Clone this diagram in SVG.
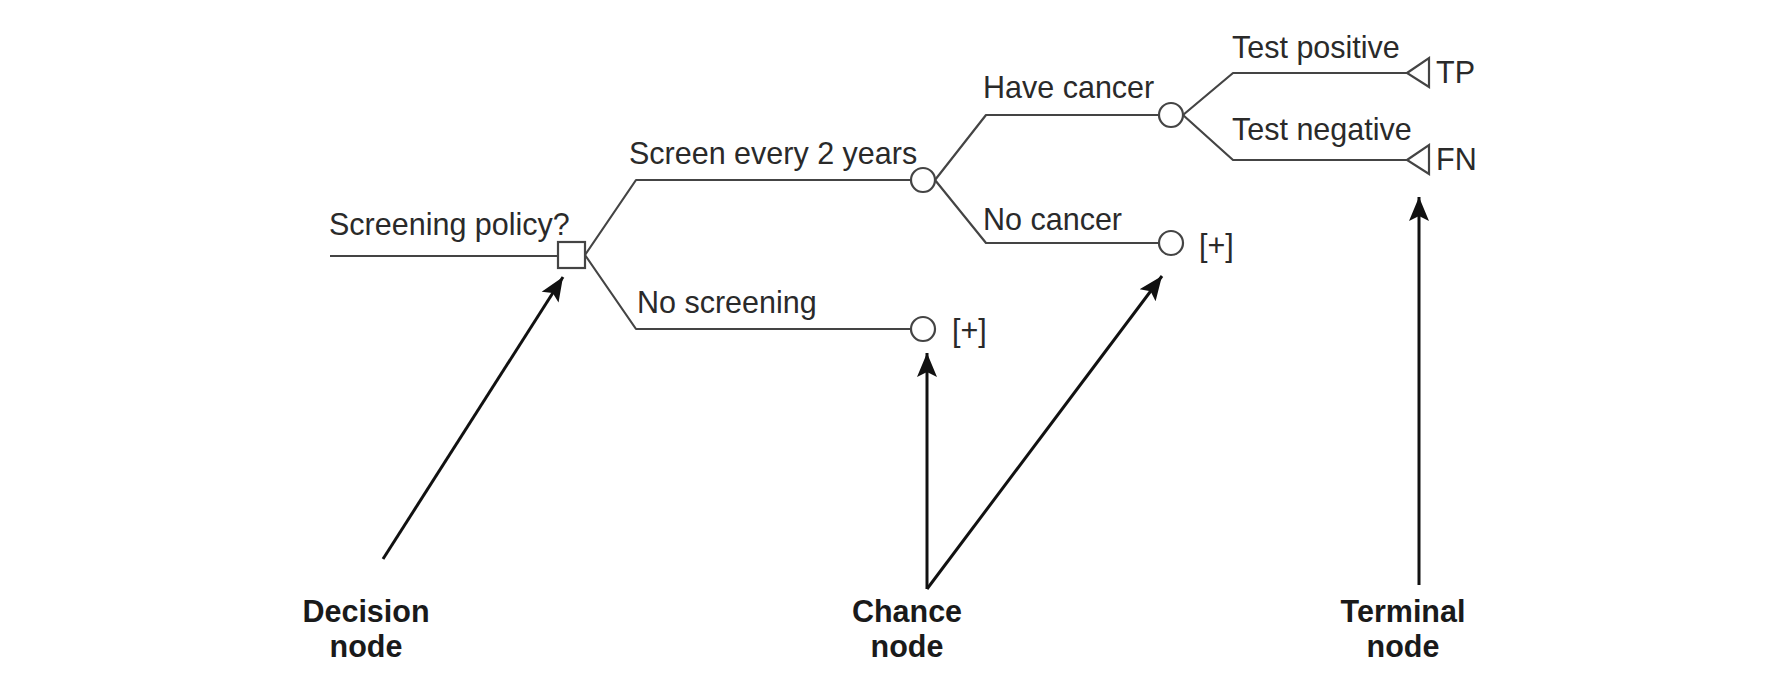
<svg xmlns="http://www.w3.org/2000/svg" width="1774" height="688" viewBox="0 0 1774 688">
<style>
.br{fill:none;stroke:#444;stroke-width:2.2;stroke-linejoin:round}
.nd{fill:#fff;stroke:#444;stroke-width:2.2}
.t{font-family:"Liberation Sans",Arial,sans-serif;font-size:30.5px;fill:#2a2a2a}
.b{font-family:"Liberation Sans",Arial,sans-serif;font-size:30.5px;font-weight:bold;fill:#1a1a1a;text-anchor:middle}
.ar{fill:none;stroke:#111;stroke-width:3}
</style>
<defs>
<marker id="ah" markerUnits="userSpaceOnUse" markerWidth="26" markerHeight="22" viewBox="0 0 26 22" refX="24" refY="11" orient="auto">
<path d="M0,1 L24,11 L0,21 L5,11 Z" fill="#111"/>
</marker>
</defs>
<rect width="1774" height="688" fill="#fff"/>
<g id="connectors">
<path class="br" d="M330,256 H558"/>
<path class="br" d="M585,255 L636,180 H911"/>
<path class="br" d="M585,255 L636,329 H911"/>
<path class="br" d="M935,180 L986,115 H1159"/>
<path class="br" d="M935,180 L986,243 H1159"/>
<path class="br" d="M1183,115 L1233,73 H1407"/>
<path class="br" d="M1183,115 L1233,160 H1407"/>
</g>
<g id="decision">
<rect class="nd" x="558" y="242" width="27" height="26"/>
<text class="t" x="329" y="235">Screening policy?</text>
</g>
<g id="screen-label"><text class="t" x="629" y="164">Screen every 2 years</text></g>
<g id="noscreen-label"><text class="t" x="637" y="313">No screening</text></g>
<g id="chance1"><circle class="nd" cx="923" cy="180" r="12"/></g>
<g id="chance-noscreen">
<circle class="nd" cx="923" cy="329" r="12"/>
<text class="t" x="952" y="341">[+]</text>
</g>
<g id="chance2">
<circle class="nd" cx="1171" cy="115" r="12"/>
<text class="t" x="983" y="98">Have cancer</text>
</g>
<g id="chance-nocancer">
<circle class="nd" cx="1171" cy="243" r="12"/>
<text class="t" x="983" y="230">No cancer</text>
<text class="t" x="1199" y="256">[+]</text>
</g>
<g id="terminal-tp">
<path class="nd" d="M1407,73 L1429,58 V87 Z"/>
<text class="t" x="1232" y="58">Test positive</text>
<text class="t" x="1436" y="83">TP</text>
</g>
<g id="terminal-fn">
<path class="nd" d="M1407,160 L1429,145 V174 Z"/>
<text class="t" x="1232" y="140">Test negative</text>
<text class="t" x="1436" y="170">FN</text>
</g>
<g id="annotations">
<line class="ar" x1="383" y1="559" x2="563" y2="277" marker-end="url(#ah)"/>
<line class="ar" x1="927" y1="589" x2="927" y2="353" marker-end="url(#ah)"/>
<line class="ar" x1="927" y1="589" x2="1162" y2="276" marker-end="url(#ah)"/>
<line class="ar" x1="1419" y1="585" x2="1419" y2="197" marker-end="url(#ah)"/>
</g>
<g id="label-decision"><text class="b" x="366" y="622">Decision</text><text class="b" x="366" y="657">node</text></g>
<g id="label-chance"><text class="b" x="907" y="622">Chance</text><text class="b" x="907" y="657">node</text></g>
<g id="label-terminal"><text class="b" x="1403" y="622">Terminal</text><text class="b" x="1403" y="657">node</text></g>
</svg>
